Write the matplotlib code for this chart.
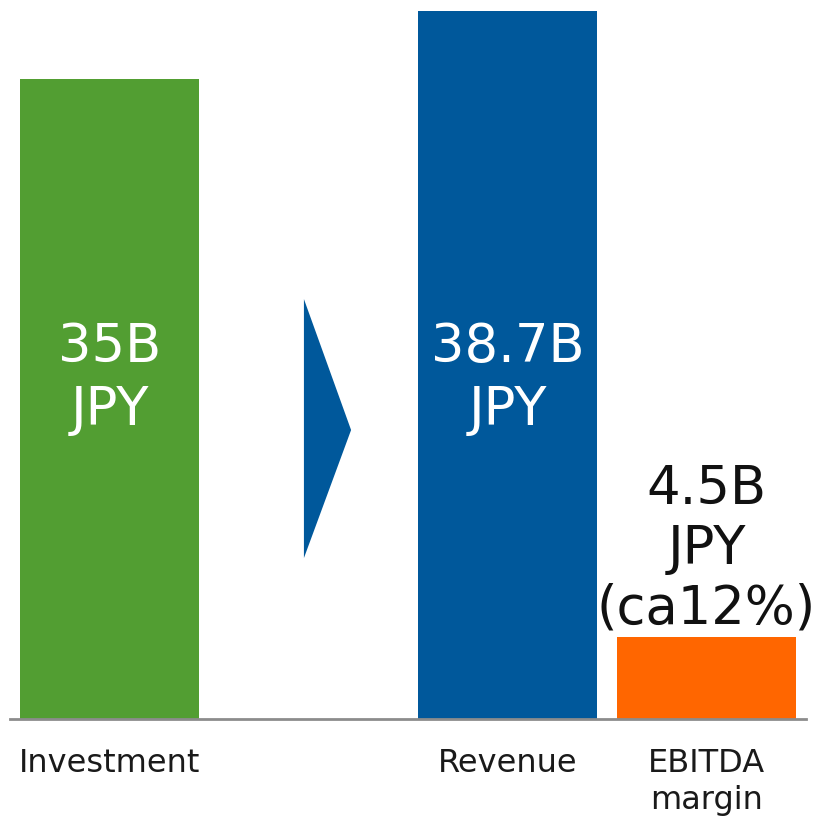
import numpy as np
import matplotlib
matplotlib.use("Agg")
import matplotlib.pyplot as plt
from matplotlib.patches import Polygon

# data
categories = ["Investment", "Revenue", "EBITDA\nmargin"]
positions = [0, 2, 3]
values = [35.0, 38.7, 4.5]
bar_labels = ["35B\nJPY", "38.7B\nJPY", "4.5B\nJPY\n(ca12%)"]
colors = ["#529E32", "#00589B", "#FF6600"]

W, H = 823, 819
fig = plt.figure(figsize=(W / 100, H / 100), dpi=100)
# axes box in pixels: left 10, right 806, baseline at 719, top at 0
ax = fig.add_axes([10 / W, (H - 719) / H, 796 / W, 719 / H])
ax.set_xlim(-0.5, 3.5)
ax.set_ylim(0, 719 / 18.29)

ax.bar(positions, values, width=0.895, color=colors, zorder=2)

for side in ["top", "right", "left"]:
    ax.spines[side].set_visible(False)
ax.spines["bottom"].set_color("#8c8c8c")
ax.spines["bottom"].set_linewidth(2)
ax.set_yticks([])
ax.set_xticks(positions)
ax.set_xticklabels(categories, fontsize=23, color="#1a1a1a", linespacing=1.25)
ax.tick_params(axis="x", length=0, pad=21)

# labels: first two inside (white), last one above bar (black)
for x, v, lab in zip(positions, values, bar_labels):
    if v > 10:
        ax.text(x, 18.6, lab, ha="center", va="center", fontsize=38,
                color="white", linespacing=1.27)
    else:
        ax.text(x, v + 0.1, lab, ha="center", va="bottom", fontsize=38,
                color="#111111", linespacing=1.2)

# arrow between investment and revenue
arrow = Polygon([[0.977, 22.96], [1.214, 15.8], [0.977, 8.8]], closed=True,
                color="#00589B", lw=0)
ax.add_patch(arrow)

fig.savefig("out.png", dpi=100)
